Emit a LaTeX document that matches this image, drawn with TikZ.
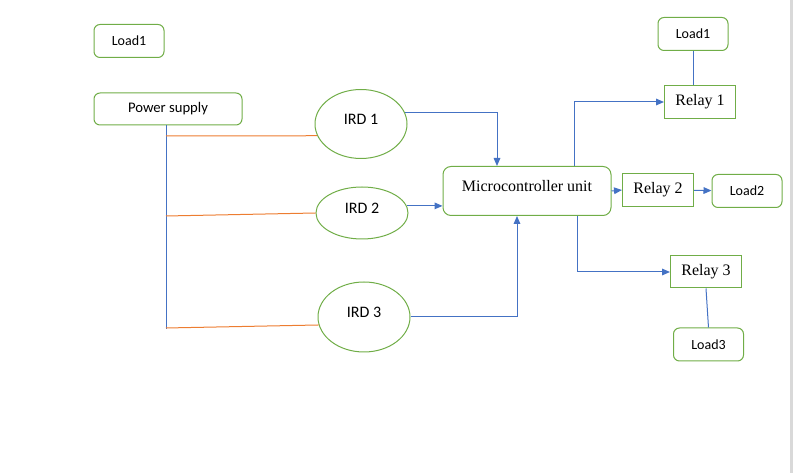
\documentclass[tikz,border=0pt]{standalone}
\usepackage{fontspec}
\setmainfont{Liberation Serif}
\newfontfamily\calib{Carlito}
\usetikzlibrary{arrows.meta,shapes.geometric}
\definecolor{boxgreen}{HTML}{70AD47}
\definecolor{wireblue}{HTML}{4472C4}
\definecolor{wireorange}{HTML}{ED7D31}
\tikzset{
  loadbox/.style={rectangle, rounded corners=4.5pt, draw=boxgreen, line width=0.75pt, minimum width=52.5pt, minimum height=24.75pt, inner sep=0pt, font=\calib\fontsize{10.5}{12}\selectfont},
  supplybox/.style={loadbox, minimum width=111pt, minimum height=24pt, font=\calib\fontsize{11}{13}\selectfont},
  relaybox/.style={rectangle, draw=boxgreen, line width=0.75pt, minimum width=53.25pt, minimum height=24.75pt, inner sep=0pt, font=\fontsize{12}{14}\selectfont},
  mcubox/.style={rectangle, rounded corners=6pt, draw=boxgreen, line width=0.75pt, minimum width=126pt, minimum height=36.75pt, inner sep=0pt, text depth=7pt, font=\fontsize{12}{14}\selectfont},
  irdnode/.style={ellipse, draw=boxgreen, line width=0.75pt, minimum width=69pt, inner sep=0pt, text depth=7pt, font=\calib\fontsize{12}{14}\selectfont},
  bluewire/.style={draw=wireblue, line width=0.75pt},
  orangewire/.style={draw=wireorange, line width=0.75pt},
  sig/.style={bluewire, -{Triangle[length=6pt, width=5pt]}}
}

\begin{document}
\begin{tikzpicture}[x=0.75pt, y=-0.75pt]
  \useasboundingbox (0,0) rectangle (794,473);
  \fill[gray!30] (790,0) rectangle (792.5,473);

  % supply side
  \node[loadbox] (loada) at (129,41) {Load1};
  \node[supplybox] (power) at (168,109) {Power supply};
  \node[irdnode, minimum height=51.75pt] (ird1) at (361,124) {IRD 1};
  \node[irdnode, minimum height=39pt] (ird2) at (362,213) {IRD 2};
  \node[irdnode, minimum height=52.5pt] (ird3) at (364,317) {IRD 3};
  \coordinate (busend) at (166,329);
  \coordinate (tap1) at (166,136);
  \coordinate (tap2) at (166,216);
  \coordinate (tap3) at (166,328);
  \draw[bluewire] (power.south -| busend) -- (busend);
  \draw[orangewire] (tap1) -- (ird1.195);
  \draw[orangewire] (tap2) -- (ird2.west);
  \draw[orangewire] (tap3) -- (ird3.190);

  % controller
  \node[mcubox] (mcu) at (527,191) {Microcontroller unit};
  \draw[sig] (ird1.15) -| ([xshift=-22.5pt]mcu.north);
  \draw[sig] (ird2.9) -- (ird2.9 -| mcu.west);
  \draw[sig] (ird3.east) -| ([xshift=-7.5pt]mcu.south);

  % relays and loads
  \node[relaybox] (relay1) at (700,102) {Relay 1};
  \node[relaybox] (relay2) at (658,190) {Relay 2};
  \node[relaybox, minimum height=24pt] (relay3) at (706,272) {Relay 3};
  \node[loadbox] (loadb) at (693,34) {Load1};
  \node[loadbox] (loadc) at (747,191) {Load2};
  \node[loadbox] (loadd) at (708.5,344.5) {Load3};
  \draw[sig] ([xshift=35.25pt]mcu.north) |- (relay1.west);
  \draw[sig] (mcu.east) -- (relay2.west);
  \draw[sig] ([xshift=37.5pt]mcu.south) |- (relay3.west);
  \draw[sig] (relay2) -- (loadc);
  \draw[bluewire] (loadb.south) -- (loadb.south |- relay1.north);
  \draw[bluewire] (relay3.south) -- (loadd.north);
\end{tikzpicture}
\end{document}
